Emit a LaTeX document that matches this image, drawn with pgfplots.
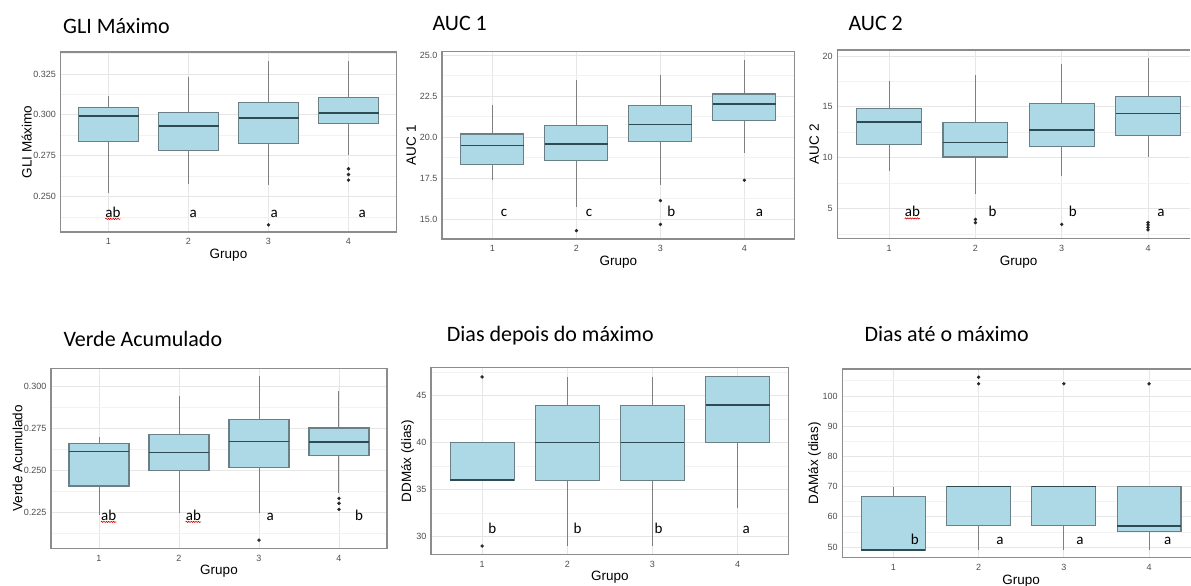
\documentclass[border=0pt]{standalone}
\usepackage{fontspec}
\setmainfont{Liberation Sans}
\newfontfamily\calfont{Carlito}
\usepackage{pgfplots}
\pgfplotsset{compat=1.18}
\usepgfplotslibrary{statistics}
\usetikzlibrary{decorations.pathmorphing}
\definecolor{boxfill}{HTML}{ADD8E6}
\definecolor{boxline}{HTML}{6B7F86}
\definecolor{medline}{HTML}{2E4A52}
\definecolor{whisk}{HTML}{7F7F7F}
\definecolor{framec}{HTML}{8C8C8C}
\definecolor{gridmaj}{HTML}{E6E6E6}
\definecolor{gridmin}{HTML}{F2F2F2}
\definecolor{tickgray}{HTML}{4D4D4D}
\pgfplotsset{
 panel/.style={
   scale only axis, anchor=north west,
   xmin=0.4, xmax=4.6, xtick={1,2,3,4}, xticklabels={1,2,3,4},
   /pgf/number format/assume math mode=true,
   axis line style={draw=framec, line width=1.3pt},
   major tick length=0pt, minor tick length=0pt,
   xmajorgrids, ymajorgrids, yminorgrids,
   major grid style={draw=gridmaj, line width=0.8pt},
   minor grid style={draw=gridmin, line width=0.6pt},
   tick label style={font=\fontsize{9}{9}\selectfont, text=tickgray},
   yticklabel style={inner sep=0pt, xshift=-4.5pt},
   xticklabel style={inner sep=0pt, yshift=-6.5pt},
   xlabel={Grupo},
   every axis x label/.style={at={(axis description cs:0.5,0)}, anchor=center, yshift=-23pt, font=\fontsize{13.5}{13.5}\selectfont},
   boxplot/draw direction=y,
   boxplot/box extend=0.75,
   boxplot/whisker extend=0,
   boxplot/every box/.style={draw=boxline, fill=boxfill, line width=1.1pt},
   boxplot/every whisker/.style={draw=whisk, line width=1pt},
   boxplot/every median/.style={draw=medline, line width=1.6pt},
 },
 ylab/.style={every axis y label/.style={at={([xshift=#1]axis description cs:0,0.5)}, rotate=90, anchor=center, font=\fontsize{13.5}{13.5}\selectfont}},
 bx/.style={mark=*, mark size=1.5pt, mark options={draw=black!85, fill=black!85}},
}
\tikzset{
 lett/.style={font=\calfont\fontsize{15}{15}\selectfont, anchor=base, inner sep=0pt},
 spell/.style={draw=red!85!black, line width=0.6pt, decorate, decoration={snake, amplitude=0.6pt, segment length=2.4pt}},
 ttl/.style={anchor=base west, inner sep=0pt, font=\calfont\fontsize{22}{22}\selectfont},
}
\begin{document}
\begin{tikzpicture}
\useasboundingbox (0,0) rectangle (1191pt,-586pt);

% ---------- P1 GLI Maximo
\begin{axis}[panel, ylab=-33.8pt, at={(60.5pt,-52pt)}, width=336pt, height=180pt,
 ymin=0.2285, ymax=0.3384, ytick={0.25,0.275,0.3,0.325}, yticklabels={0.250,0.275,0.300,0.325},
 minor ytick={0.2375,0.2625,0.2875,0.3125,0.3375}, ylabel={GLI Máximo}]
\addplot[bx, boxplot prepared={draw position=1, lower whisker=0.2522, lower quartile=0.2835, median=0.2992, upper quartile=0.3043, upper whisker=0.3114}] coordinates {};
\addplot[bx, boxplot prepared={draw position=2, lower whisker=0.2579, lower quartile=0.2785, median=0.2931, upper quartile=0.3012, upper whisker=0.3234}] coordinates {};
\addplot[bx, boxplot prepared={draw position=3, lower whisker=0.2575, lower quartile=0.2827, median=0.2980, upper quartile=0.3073, upper whisker=0.3329}] coordinates {(3,0.2329)};
\addplot[bx, boxplot prepared={draw position=4, lower whisker=0.2756, lower quartile=0.2949, median=0.3010, upper quartile=0.3104, upper whisker=0.3329}] coordinates {(4,0.2671) (4,0.2636) (4,0.2602)};
\node[lett] (a1) at (axis cs:1.056,0.2376) {ab};
\draw[spell] ([yshift=-1.8pt]a1.base west) -- ([yshift=-1.8pt]a1.base east);
\node[lett] at (axis cs:2.06,0.2376) {a};
\node[lett] at (axis cs:3.07,0.2376) {a};
\node[lett] at (axis cs:4.17,0.2376) {a};
\end{axis}

% ---------- P2 AUC 1
\begin{axis}[panel, ylab=-30.7pt, at={(442pt,-51.7pt)}, width=352.8pt, height=187.3pt,
 ymin=13.78, ymax=25.2, ytick={15,17.5,20,22.5,25}, yticklabels={15.0,17.5,20.0,22.5,25.0},
 minor ytick={16.25,18.75,21.25,23.75}, ylabel={AUC 1}]
\addplot[bx, boxplot prepared={draw position=1, lower whisker=17.38, lower quartile=18.33, median=19.49, upper quartile=20.18, upper whisker=21.95}] coordinates {};
\addplot[bx, boxplot prepared={draw position=2, lower whisker=15.75, lower quartile=18.54, median=19.59, upper quartile=20.69, upper whisker=23.48}] coordinates {(2,14.29)};
\addplot[bx, boxplot prepared={draw position=3, lower whisker=17.07, lower quartile=19.74, median=20.77, upper quartile=21.91, upper whisker=23.78}] coordinates {(3,16.12) (3,14.67)};
\addplot[bx, boxplot prepared={draw position=4, lower whisker=19.04, lower quartile=20.98, median=22.01, upper quartile=22.62, upper whisker=24.70}] coordinates {(4,17.36)};
\node[lett] at (axis cs:1.14,15.14) {c};
\node[lett] at (axis cs:2.15,15.14) {c};
\node[lett] at (axis cs:3.13,15.14) {b};
\node[lett] at (axis cs:4.18,15.14) {a};
\end{axis}

% ---------- P3 AUC 2
\begin{axis}[panel, ylab=-23pt, at={(837.3pt,-50pt)}, xmax=4.49, width=353pt, height=188.7pt,
 axis x line*=box, axis y line*=left,
 every axis x label/.append style={at={(axis description cs:0.5134,0)}},
 ymin=2.03, ymax=20.59, ytick={5,10,15,20}, yticklabels={5,10,15,20},
 minor ytick={2.5,7.5,12.5,17.5}, ylabel={AUC 2}]
\addplot[bx, boxplot prepared={draw position=1, lower whisker=8.72, lower quartile=11.28, median=13.48, upper quartile=14.85, upper whisker=17.54}] coordinates {};
\addplot[bx, boxplot prepared={draw position=2, lower whisker=6.43, lower quartile=10.07, median=11.48, upper quartile=13.44, upper whisker=18.13}] coordinates {(2,3.93) (2,3.61)};
\addplot[bx, boxplot prepared={draw position=3, lower whisker=8.20, lower quartile=11.08, median=12.72, upper quartile=15.31, upper whisker=19.21}] coordinates {(3,3.44)};
\addplot[bx, boxplot prepared={draw position=4, lower whisker=10.10, lower quartile=12.16, median=14.36, upper quartile=16.00, upper whisker=19.84}] coordinates {(4,3.62) (4,3.38) (4,3.14) (4,2.90)};
\node[lett] (a3) at (axis cs:1.27,4.2) {ab};
\draw[spell] ([yshift=-1.8pt]a3.base west) -- ([yshift=-1.8pt]a3.base east);
\node[lett] at (axis cs:2.2,4.2) {b};
\node[lett] at (axis cs:3.13,4.2) {b};
\node[lett] at (axis cs:4.15,4.2) {a};
\end{axis}

% ---------- P4 Verde Acumulado
\begin{axis}[panel, ylab=-33.5pt, at={(51pt,-368.3pt)}, width=336pt, height=180pt,
 ymin=0.2038, ymax=0.3109, ytick={0.225,0.25,0.275,0.3}, yticklabels={0.225,0.250,0.275,0.300},
 minor ytick={0.2125,0.2375,0.2625,0.2875}, ylabel={Verde Acumulado}]
\addplot[bx, boxplot prepared={draw position=1, lower whisker=0.2236, lower quartile=0.2409, median=0.2615, upper quartile=0.2659, upper whisker=0.2700}] coordinates {};
\addplot[bx, boxplot prepared={draw position=2, lower whisker=0.2246, lower quartile=0.2500, median=0.2609, upper quartile=0.2714, upper whisker=0.2946}] coordinates {};
\addplot[bx, boxplot prepared={draw position=3, lower whisker=0.2246, lower quartile=0.2520, median=0.2673, upper quartile=0.2804, upper whisker=0.3063}] coordinates {(3,0.2087)};
\addplot[bx, boxplot prepared={draw position=4, lower whisker=0.2369, lower quartile=0.2589, median=0.2669, upper quartile=0.2754, upper whisker=0.2972}] coordinates {(4,0.2335) (4,0.2306) (4,0.2270)};
\node[lett] (a4) at (axis cs:1.12,0.2206) {ab};
\draw[spell] ([yshift=-1.8pt]a4.base west) -- ([yshift=-1.8pt]a4.base east);
\node[lett] (a5) at (axis cs:2.18,0.2206) {ab};
\draw[spell] ([yshift=-1.8pt]a5.base west) -- ([yshift=-1.8pt]a5.base east);
\node[lett] at (axis cs:3.14,0.2206) {a};
\node[lett] at (axis cs:4.25,0.2206) {b};
\end{axis}

% ---------- P5 Dias depois do maximo
\begin{axis}[panel, ylab=-23.5pt, at={(431pt,-367.7pt)}, width=357.8pt, height=186.6pt,
 ymin=28.12, ymax=47.98, ytick={30,35,40,45}, yticklabels={30,35,40,45},
 minor ytick={32.5,37.5,42.5,47.5}, ylabel={DDMáx (dias)}]
\addplot[bx, boxplot prepared={draw position=1, lower whisker=36, lower quartile=36, median=36, upper quartile=40, upper whisker=40}] coordinates {(1,47) (1,29)};
\addplot[bx, boxplot prepared={draw position=2, lower whisker=29, lower quartile=36, median=40, upper quartile=44, upper whisker=47}] coordinates {};
\addplot[bx, boxplot prepared={draw position=3, lower whisker=29, lower quartile=36, median=40, upper quartile=44, upper whisker=47}] coordinates {};
\addplot[bx, boxplot prepared={draw position=4, lower whisker=33, lower quartile=40, median=44, upper quartile=47, upper whisker=47}] coordinates {};
\node[lett] at (axis cs:1.12,30.35) {b};
\node[lett] at (axis cs:2.12,30.35) {b};
\node[lett] at (axis cs:3.07,30.35) {b};
\node[lett] at (axis cs:4.1,30.35) {a};
\end{axis}

% ---------- P6 Dias ate o maximo
\begin{axis}[panel, ylab=-27.8pt, at={(842.3pt,-369pt)}, xmax=4.49, width=348.5pt, height=188.7pt,
 axis x line*=box, axis y line*=left,
 every axis x label/.append style={at={(axis description cs:0.5134,0)}},
 ymin=46.47, ymax=108.9, ytick={50,60,70,80,90,100}, yticklabels={50,60,70,80,90,100},
 minor ytick={55,65,75,85,95,105}, ylabel={DAMáx (dias)}]
\addplot[bx, boxplot prepared={draw position=1, lower whisker=49, lower quartile=49, median=49, upper quartile=66.7, upper whisker=70}] coordinates {};
\addplot[bx, boxplot prepared={draw position=2, lower whisker=49, lower quartile=57, median=70, upper quartile=70, upper whisker=70}] coordinates {(2,104) (2,106.2)};
\addplot[bx, boxplot prepared={draw position=3, lower whisker=49, lower quartile=57, median=70, upper quartile=70, upper whisker=70}] coordinates {(3,104)};
\addplot[bx, boxplot prepared={draw position=4, lower whisker=49, lower quartile=55, median=57, upper quartile=70, upper whisker=70}] coordinates {(4,104)};
\node[lett] at (axis cs:1.25,51.0) {b};
\node[lett] at (axis cs:2.25,51.0) {a};
\node[lett] at (axis cs:3.19,51.0) {a};
\node[lett] at (axis cs:4.22,51.0) {a};
\end{axis}

% ---------- titles
\node[ttl] at (63pt,-33.3pt) {GLI Máximo};
\node[ttl] at (432.3pt,-31pt) {AUC 1};
\node[ttl] at (848.3pt,-31pt) {AUC 2};
\node[ttl] at (63.3pt,-346.7pt) {Verde Acumulado};
\node[ttl] at (446.7pt,-341pt) {Dias depois do máximo};
\node[ttl] at (864.3pt,-341.7pt) {Dias até o máximo};
\end{tikzpicture}
\end{document}
